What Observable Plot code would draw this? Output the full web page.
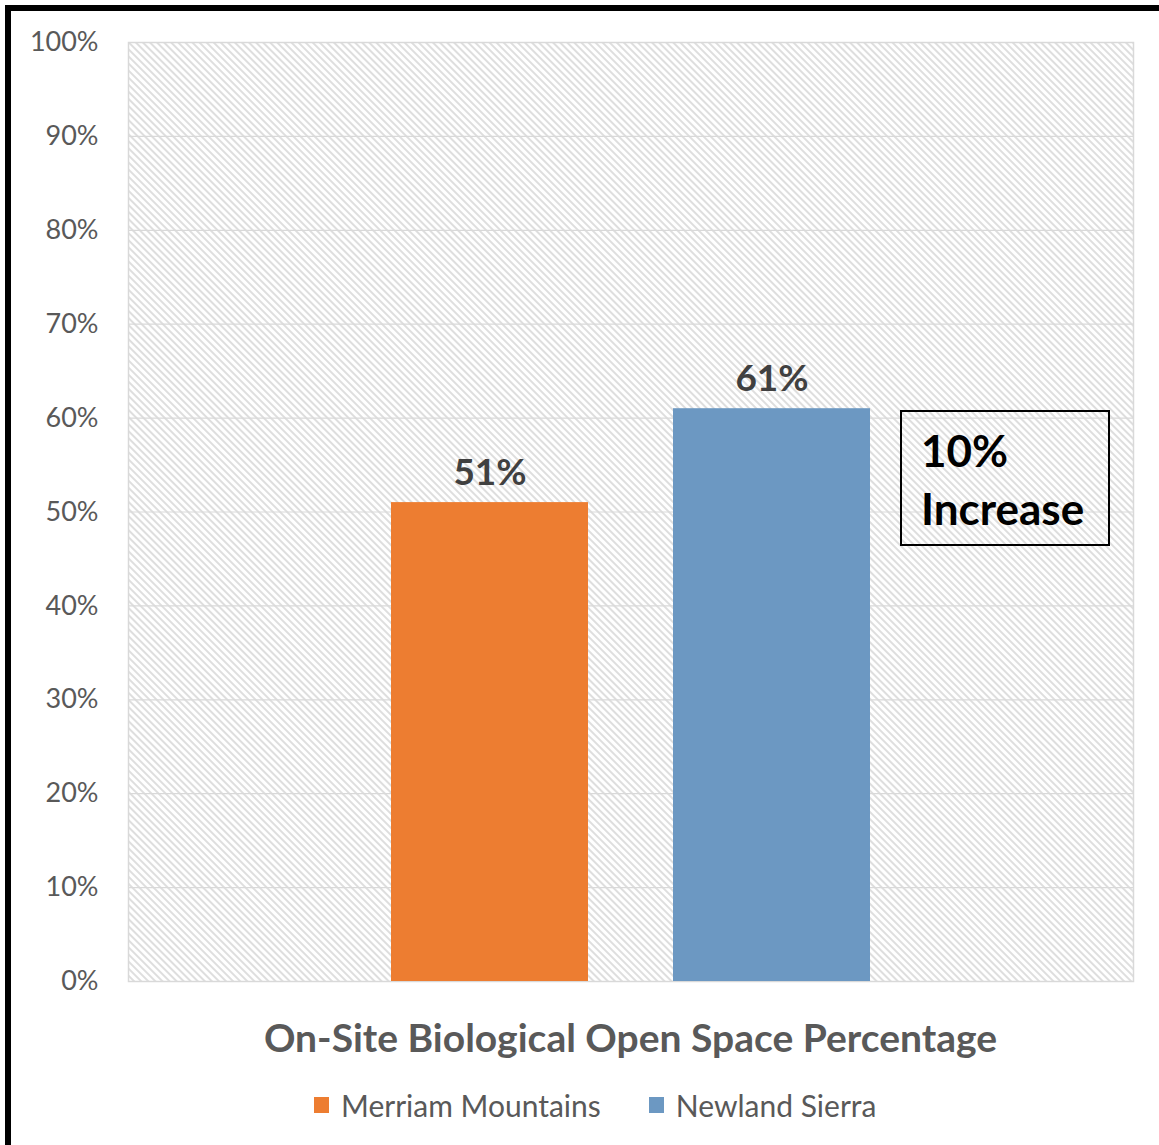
<!DOCTYPE html>
<html>
<head>
<meta charset="utf-8">
<script src="https://cdn.jsdelivr.net/npm/d3@7"></script>
<script src="https://cdn.jsdelivr.net/npm/@observablehq/plot@0.6"></script>
<style>
  html, body { margin: 0; padding: 0; background: #fff; }
  #wrap { position: relative; width: 1159px; height: 1145px; overflow: hidden; font-family: Lato, "Open Sans", sans-serif; }
  #frame { position: absolute; left: 5px; top: 5px; width: 1200px; height: 1200px; border-top: 6px solid #000; border-left: 6px solid #000; box-sizing: border-box; }
  #chart { position: absolute; left: 0; top: 0; }
  #title { position: absolute; left: 128px; width: 1005px; top: 1012px; text-align: center; font-weight: 700; font-size: 39px; color: #595959; line-height: 50px; }
  #legend { position: absolute; left: 0; width: 1159px; top: 1086px; display: flex; justify-content: flex-start; gap: 48px; font-size: 30px; color: #595959; padding-left: 314px; box-sizing: border-box; line-height: 38px; }
  .item { display: flex; align-items: center; gap: 12px; }
  .sw { width: 15px; height: 16px; display: inline-block; }
  #note { position: absolute; left: 900px; top: 410px; width: 210px; height: 136px; border: 2px solid #000; box-sizing: border-box; font-weight: 700; font-size: 44px; color: #000; padding: 9px 0 0 19px; line-height: 58px; }
</style>
</head>
<body>
<div id="wrap">
  <div id="chart"></div>
  <div id="frame"></div>
  <div id="note"></div>
  <div id="title"></div>
  <div id="legend"></div>
</div>
<script>
const categories = ["Merriam Mountains", "Newland Sierra"];
const values = [0.51, 0.61];
const colors = ["#ED7D31", "#6C98C2"];
const yTicks = [0, 0.1, 0.2, 0.3, 0.4, 0.5, 0.6, 0.7, 0.8, 0.9, 1.0];
const titleText = "On-Site Biological Open Space Percentage";
const noteLines = ["10%", "Increase"];

const data = categories.map((c, i) => ({category: c, value: values[i], label: Math.round(values[i] * 100) + "%"}));

const chart = Plot.plot({
  width: 1159,
  height: 1000,
  marginLeft: 128,
  marginRight: 26,
  marginTop: 42,
  marginBottom: 19,
  style: {background: "transparent", fontFamily: "Lato, 'Open Sans', sans-serif"},
  x: {domain: categories, range: [391, 870], paddingInner: 85 / 282, paddingOuter: 0, axis: null},
  y: {domain: [0, 1], ticks: yTicks, tickFormat: d => Math.round(d * 100) + "%", tickSize: 0, tickPadding: 30, label: null},
  color: {domain: categories, range: colors},
  marks: [
    Plot.frame({fill: "url(#hatch)", stroke: "#d9d9d9", strokeWidth: 1.5}),
    Plot.gridY(yTicks, {stroke: "#d9d9d9", strokeOpacity: 1, strokeWidth: 1.2}),
    Plot.axisY(yTicks, {tickSize: 0, tickPadding: 30, fontSize: 27, fill: "#595959", tickFormat: d => Math.round(d * 100) + "%", label: null}),
    Plot.barY(data, {x: "category", y: "value", fill: "category"}),
    Plot.text(data, {x: "category", y: "value", text: "label", lineAnchor: "bottom", dy: -18, fontSize: 37, fontWeight: 700, fill: "#404040"})
  ]
});

const svg = d3.select(chart);
const defs = svg.insert("defs", ":first-child");
const pat = defs.append("pattern").attr("id", "hatch").attr("patternUnits", "userSpaceOnUse")
  .attr("width", 5).attr("height", 5).attr("patternTransform", "rotate(-45)");
pat.append("rect").attr("width", 5).attr("height", 5).attr("fill", "#ffffff");
pat.append("line").attr("x1", 1).attr("y1", 0).attr("x2", 1).attr("y2", 5).attr("stroke", "#dedede").attr("stroke-width", 2);

document.getElementById("chart").appendChild(chart);
document.getElementById("title").textContent = titleText;

const note = document.getElementById("note");
noteLines.forEach(t => { const d = document.createElement("div"); d.textContent = t; note.appendChild(d); });

const legend = document.getElementById("legend");
categories.forEach((c, i) => {
  const it = document.createElement("div"); it.className = "item";
  const sw = document.createElement("span"); sw.className = "sw"; sw.style.background = colors[i];
  const tx = document.createElement("span"); tx.textContent = c;
  it.appendChild(sw); it.appendChild(tx); legend.appendChild(it);
});
</script>
</body>
</html>
